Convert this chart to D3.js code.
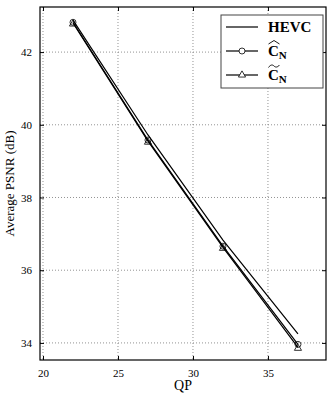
<!DOCTYPE html>
<html>
<head>
<meta charset="utf-8">
<script src="https://cdn.jsdelivr.net/npm/d3@7"></script>
<style>
body { margin: 0; background: #fff; }
text { font-family: "Liberation Serif", "DejaVu Serif", serif; fill: #000; }
</style>
</head>
<body>
<svg width="333" height="400"></svg>
<script>
var qp = [22, 27, 32, 37]
var hevc = [42.88, 39.72, 36.83, 34.25]
var cHat = [42.82, 39.58, 36.66, 33.96]
var cTilde = [42.80, 39.55, 36.63, 33.88]
var xTicks = [20, 25, 30, 35]
var yTicks = [34, 36, 38, 40, 42]

var svg = d3.select('svg')
var mLeft = 40, mRight = 326, mTop = 7, mBottom = 360

var x = d3.scaleLinear().domain([19.8, 38.87]).range([mLeft, mRight])
var y = d3.scaleLinear().domain([33.53, 43.24]).range([mBottom, mTop])

// grid
svg.append('g').selectAll('line').data(xTicks).enter().append('line')
    .attr('x1', function (d) { return x(d); }).attr('x2', function (d) { return x(d); })
    .attr('y1', mTop).attr('y2', mBottom)
    .attr('stroke', '#777').attr('stroke-dasharray', '1,2').attr('stroke-width', 0.8)
svg.append('g').selectAll('line').data(yTicks).enter().append('line')
    .attr('x1', mLeft).attr('x2', mRight)
    .attr('y1', function (d) { return y(d); }).attr('y2', function (d) { return y(d); })
    .attr('stroke', '#777').attr('stroke-dasharray', '1,2').attr('stroke-width', 0.8)

// axes, inward ticks
svg.append('g').attr('transform', 'translate(0,' + mBottom + ')')
    .call(d3.axisBottom(x).tickValues(xTicks).tickSizeInner(-4).tickSizeOuter(0).tickPadding(9))
svg.append('g').attr('transform', 'translate(0,' + mTop + ')')
    .call(d3.axisTop(x).tickValues(xTicks).tickSizeInner(-4).tickSizeOuter(0).tickFormat(''))
svg.append('g').attr('transform', 'translate(' + mLeft + ',0)')
    .call(d3.axisLeft(y).tickValues(yTicks).tickSizeInner(-4).tickSizeOuter(0).tickPadding(8))
svg.append('g').attr('transform', 'translate(' + mRight + ',0)')
    .call(d3.axisRight(y).tickValues(yTicks).tickSizeInner(-4).tickSizeOuter(0).tickFormat(''))
svg.selectAll('.domain').remove()
svg.selectAll('.tick text').style('font-size', '11px').attr('fill', '#333')
    .style('font-family', '"Liberation Serif", serif')

svg.append('rect').attr('x', mLeft).attr('y', mTop)
    .attr('width', mRight - mLeft).attr('height', mBottom - mTop)
    .attr('fill', 'none').attr('stroke', '#000').attr('stroke-width', 1.2)

var line = d3.line()
    .x(function (d, i) { return x(qp[i]); })
    .y(function (d) { return y(d); })

svg.append('path').datum(hevc).attr('d', line)
    .attr('fill', 'none').attr('stroke', '#000').attr('stroke-width', 1.2)
svg.append('path').datum(cHat).attr('d', line)
    .attr('fill', 'none').attr('stroke', '#000').attr('stroke-width', 1.2)
svg.append('path').datum(cTilde).attr('d', line)
    .attr('fill', 'none').attr('stroke', '#000').attr('stroke-width', 1.2)

var tri = d3.symbol().type(d3.symbolTriangle).size(22)
svg.append('g').selectAll('circle').data(cHat).enter().append('circle')
    .attr('cx', function (d, i) { return x(qp[i]); })
    .attr('cy', function (d) { return y(d); })
    .attr('r', 3).attr('fill', 'none').attr('stroke', '#000').attr('stroke-width', 0.8)
svg.append('g').selectAll('path').data(cTilde).enter().append('path')
    .attr('d', tri)
    .attr('transform', function (d, i) { return 'translate(' + x(qp[i]) + ',' + (y(d) + 1) + ')'; })
    .attr('fill', 'none').attr('stroke', '#000').attr('stroke-width', 0.8)

// axis labels
svg.append('text').attr('x', (mLeft + mRight) / 2).attr('y', 390)
    .attr('text-anchor', 'middle').style('font-size', '14px').text('QP')
svg.append('text').attr('transform', 'translate(14,' + ((mTop + mBottom) / 2) + ') rotate(-90)')
    .attr('text-anchor', 'middle').style('font-size', '13px').text('Average PSNR (dB)')

// legend
var lg = svg.append('g').attr('transform', 'translate(221,15)')
lg.append('rect').attr('width', 102).attr('height', 73)
    .attr('fill', '#fff').attr('stroke', '#444').attr('stroke-width', 1)
var names = ['HEVC', 'C', 'C']
var rows = lg.selectAll('g.row').data(names).enter().append('g')
    .attr('transform', function (d, i) { return 'translate(0,' + (12 + i * 24) + ')'; })
rows.append('line').attr('x1', 5).attr('x2', 37).attr('y1', 0).attr('y2', 0)
    .attr('stroke', '#000').attr('stroke-width', 1.2)
rows.filter(function (d, i) { return i === 1; }).append('circle')
    .attr('cx', 21).attr('cy', 0).attr('r', 3).attr('fill', '#fff').attr('stroke', '#000').attr('stroke-width', 0.8)
rows.filter(function (d, i) { return i === 2; }).append('path')
    .attr('d', tri).attr('transform', 'translate(21,0)')
    .attr('fill', '#fff').attr('stroke', '#000').attr('stroke-width', 0.8)
var lt = rows.append('text').attr('x', 47).attr('y', 5)
    .style('font-size', '15px').style('font-weight', 'bold')
lt.append('tspan').text(function (d) { return d; })
lt.filter(function (d, i) { return i > 0; }).append('tspan')
    .attr('dy', 3).style('font-size', '11px').text('N')
// accents over C
rows.filter(function (d, i) { return i === 1; }).append('path')
    .attr('d', 'M47.5,-7 L53,-10.5 L58.5,-7')
    .attr('fill', 'none').attr('stroke', '#000').attr('stroke-width', 0.9)
rows.filter(function (d, i) { return i === 2; }).append('path')
    .attr('d', 'M47.5,-7.5 C49.5,-10.5 51.5,-10.5 53,-9 C54.5,-7.5 56.5,-7.5 58.5,-10')
    .attr('fill', 'none').attr('stroke', '#000').attr('stroke-width', 0.9)
</script>
</body>
</html>
